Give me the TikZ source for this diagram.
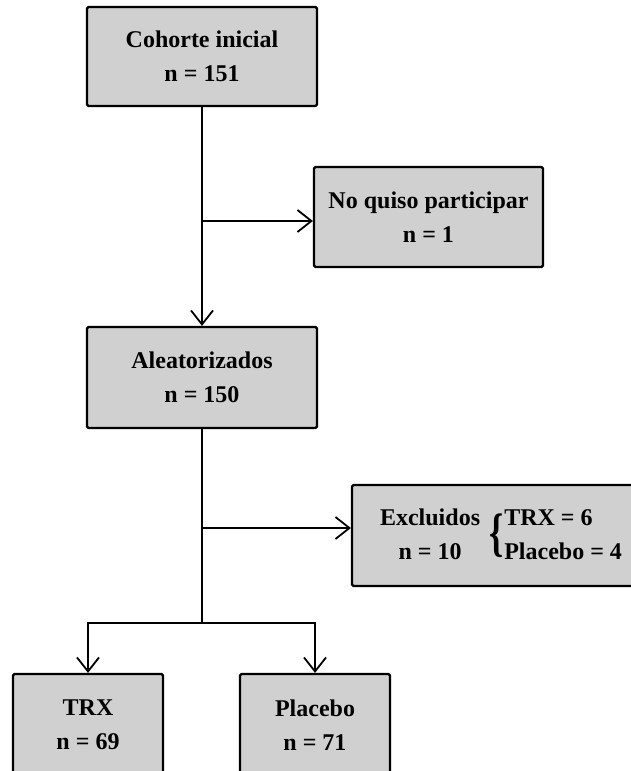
\documentclass[tikz,border=0pt]{standalone}
\usepackage{fontspec}
\setmainfont{Liberation Serif}
\usepackage{xcolor}
\usepackage{graphicx}
\usetikzlibrary{arrows.meta}

\definecolor{boxgray}{RGB}{208,208,208}

\newcommand{\llave}{$\vcenter{\hbox{\scalebox{1.5}[2.2]{\{}}}$}

\tikzset{
	caja/.style={draw, line width=2.2pt, fill=boxgray, rounded corners=1.5pt,
		align=center, inner sep=0pt, font=\fontsize{24}{34}\selectfont\bfseries},
	linea/.style={line width=1.8pt},
	flecha/.style={linea, -{Straight Barb[length=14pt, width=22pt, line width=1.8pt]}}
}

\begin{document}
\begin{tikzpicture}[x=1pt, y=-1pt]
			\useasboundingbox (0,0) rectangle (631,771);
			
			% Boxes
			\node[caja, minimum width=230, minimum height=99] (cohorte) at (202,56.5) {Cohorte inicial\\n = 151};
			\node[caja, minimum width=229, minimum height=100] (noquiso) at (428.5,217) {No quiso participar\\n = 1};
			\node[caja, minimum width=230, minimum height=101] (aleat) at (202,377.5) {Aleatorizados\\n = 150};
			\node[caja, minimum width=298, minimum height=101] (excl) at (501,535.5)
				{\begin{tabular}{@{}c@{}}Excluidos\\n = 10\end{tabular}\hspace{9pt}\llave\hspace{1pt}\begin{tabular}{@{}l@{}}TRX = 6\\Placebo = 4\end{tabular}};
			\node[caja, minimum width=150, minimum height=102] (trx) at (88,725) {TRX\\n = 69};
			\node[caja, minimum width=150, minimum height=102] (placebo) at (315,725) {Placebo\\n = 71};
			
			% Branch points
			\coordinate (r1) at (202,221);
			\coordinate (r2) at (202,528);
			\coordinate (split) at (202,623);
			
			% Arrows
			\draw[flecha] (cohorte) -- (aleat);
			\draw[flecha] (r1) -- (r1 -| noquiso.west);
			\draw[linea] (aleat) -- (split);
			\draw[flecha] (r2) -- (r2 -| excl.west);
			\draw[flecha] (split) -| (trx.north);
			\draw[flecha] (split) -| (placebo.north);
			
		\end{tikzpicture}
\end{document}
